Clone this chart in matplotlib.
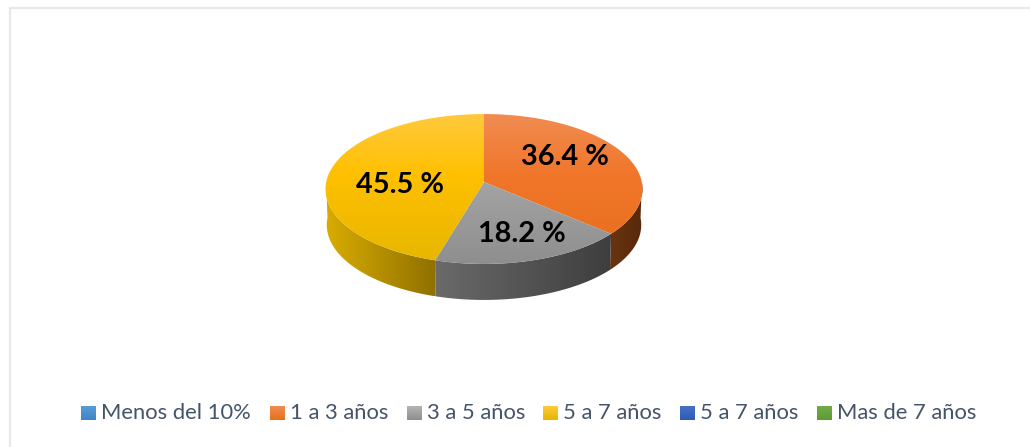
import numpy as np
import matplotlib
matplotlib.use("Agg")
import matplotlib.pyplot as plt
from matplotlib.patches import Polygon

categories = ["Menos del 10%", "1 a 3 años", "3 a 5 años", "5 a 7 años", "5 a 7 años", "Mas de 7 años"]
values = [0.0, 36.4, 18.2, 45.5, 0.0, 0.0]
labels = ["", "36.4 %", "18.2 %", "45.5 %", "", ""]
top_light = ["#5B9BD5", "#F08C52", "#B4B4B4", "#FFC93C", "#4472C4", "#70AD47"]
top_mid = ["#4E91CF", "#F1762A", "#A5A5A5", "#FFC000", "#3C68BE", "#68A53F"]
top_dark = ["#3F84C6", "#E76E1C", "#8E8E8E", "#E6B600", "#2E5BB5", "#5E9B35"]
side_left = ["#3F7FBF", "#6A3410", "#6A6A6A", "#D9AC00", "#264E9E", "#4F8A2C"]
side_right = ["#2E6AA5", "#57280A", "#3E3E3E", "#8F7000", "#1E3F85", "#3F7522"]

W, H = 1030, 447
CX, CY = 484, 182
RX, RY, K = 157.8, 74.3, 0.0933
DEPTH = 36


def project(theta, drop=0.0, shrink=1.0):
    x, y = np.cos(theta), np.sin(theta)
    d = 1 + K * y
    return CX + shrink * RX * x / d, CY - RY * y / d + drop


def gradient_image(ax, stops, extent, horizontal, clip):
    rgb = np.array([matplotlib.colors.to_rgb(c) for c in stops])
    pos = np.array([0, 0.4, 1.0]) if len(stops) == 3 else np.array([0, 1.0])
    t = np.linspace(0, 1, 128)
    g = np.column_stack([np.interp(t, pos, rgb[:, k]) for k in range(3)])
    g = g[None, :, :] if horizontal else g[:, None, :]
    im = ax.imshow(g, extent=extent, aspect="auto", origin="upper",
                   interpolation="bilinear", zorder=3)
    clip.set_transform(ax.transData)
    im.set_clip_path(clip)


fig = plt.figure(figsize=(W / 100, H / 100), dpi=100, facecolor="white")
ax = fig.add_axes([0, 0, 1, 1])
ax.axis("off")

ax.plot([9.5, 9.5, W], [H, 7.5, 7.5], color="#E6E8EC", lw=1.6, zorder=1, solid_joinstyle="miter")

fractions = np.array(values) / np.sum(values)
ends = np.pi / 2 - 2 * np.pi * np.cumsum(fractions)
starts = np.pi / 2 - 2 * np.pi * (np.cumsum(fractions) - fractions)

# side walls (front half only)
for i, (a0, a1) in enumerate(zip(starts, ends)):
    if values[i] == 0:
        continue
    lo, hi = a1, a0
    for shift in (0, -2 * np.pi, 2 * np.pi):
        l = max(lo + shift, -np.pi)
        h = min(hi + shift, 0.0)
        if h <= l:
            continue
        t = np.linspace(l, h, 100)
        x0, y0 = project(t)
        x1, y1 = project(t, DEPTH, 0.992)
        poly = np.column_stack([np.r_[x0, x1[::-1]], np.r_[y0, y1[::-1]]])
        ext = (poly[:, 0].min(), poly[:, 0].max(), poly[:, 1].max(), poly[:, 1].min())
        gradient_image(ax, [side_left[i], side_right[i]], ext, True, Polygon(poly, closed=True))

# top faces
for i, (a0, a1) in enumerate(zip(starts, ends)):
    if values[i] == 0:
        continue
    t = np.linspace(a0, a1, 200)
    x, y = project(t)
    poly = np.column_stack([np.r_[CX, x], np.r_[CY, y]])
    gradient_image(ax, [top_light[i], top_mid[i], top_dark[i]], (325, 643, 266, 114), False,
                   Polygon(poly, closed=True))

label_pos = [None, (564.5, 157), (521.5, 234), (399.5, 185), None, None]
for lab, pos in zip(labels, label_pos):
    if lab:
        ax.text(pos[0], pos[1], lab, ha="center", va="center", fontsize=20.8,
                fontweight="bold", family="Lato", color="black", zorder=5)

# legend
square_x = [81, 270, 407, 543, 680, 817]
for i, (name, sx) in enumerate(zip(categories, square_x)):
    clip = Polygon([(sx, 406), (sx + 15, 406), (sx + 15, 420), (sx, 420)], closed=True)
    gradient_image(ax, [top_light[i], top_dark[i]], (sx, sx + 15, 420, 406), False, clip)
    ax.text(sx + 20, 413, name, ha="left", va="center", fontsize=15.8,
            family="Lato", color="#44546A", zorder=5)

ax.set_xlim(0, W)
ax.set_ylim(H, 0)
fig.savefig("out.png", dpi=100, facecolor="white")
